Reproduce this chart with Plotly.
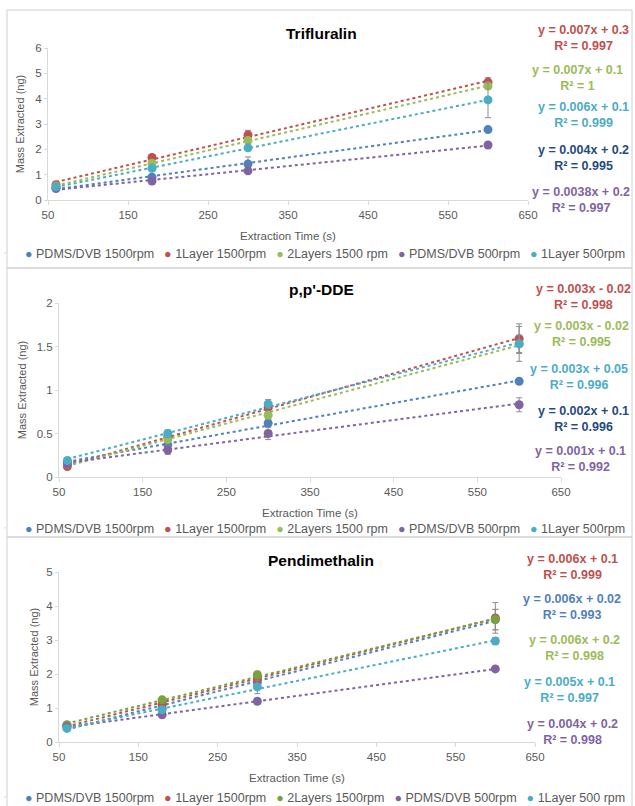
import numpy as np
import plotly.graph_objects as go

W, H = 635, 806

# ---------------- data ----------------
time_s = [60, 180, 300, 600]

names_trif = ["PDMS/DVB 1500rpm", "1Layer 1500rpm", "2Layers 1500 rpm", "PDMS/DVB 500rpm", "1Layer 500rpm"]
names_dde = ["PDMS/DVB 1500rpm", "1Layer 1500rpm", "2Layers 1500 rpm", "PDMS/DVB 500rpm", "1Layer 500rpm"]
names_pend = ["PDMS/DVB 1500rpm", "1Layer 1500rpm", "2Layers 1500rpm", "PDMS/DVB 500rpm", "1Layer 500 rpm"]

# Trifluralin
trif_pdms1500 = [0.48, 0.90, 1.42, 2.78]
trif_1l1500 = [0.60, 1.68, 2.57, 4.65]
trif_2l1500 = [0.55, 1.45, 2.35, 4.50]
trif_pdms500 = [0.45, 0.75, 1.15, 2.17]
trif_1l500 = [0.52, 1.25, 2.06, 3.95]
trif_err_pdms1500 = [0.04, 0.08, 0.28, 0.05]
trif_err_1l1500 = [0.05, 0.10, 0.18, 0.18]
trif_err_2l1500 = [0.04, 0.08, 0.10, 0.12]
trif_err_pdms500 = [0.04, 0.05, 0.08, 0.05]
trif_err_1l500 = [0.04, 0.08, 0.10, 0.70]

# p,p'-DDE
dde_pdms1500 = [0.17, 0.37, 0.62, 1.10]
dde_1l1500 = [0.12, 0.46, 0.80, 1.59]
dde_2l1500 = [0.15, 0.43, 0.71, 1.53]
dde_pdms500 = [0.15, 0.31, 0.50, 0.83]
dde_1l500 = [0.19, 0.50, 0.84, 1.53]
dde_err_pdms1500 = [0.02, 0.03, 0.04, 0.02]
dde_err_1l1500 = [0.02, 0.04, 0.05, 0.17]
dde_err_2l1500 = [0.02, 0.03, 0.05, 0.10]
dde_err_pdms500 = [0.02, 0.05, 0.07, 0.08]
dde_err_1l500 = [0.03, 0.04, 0.05, 0.20]

# Pendimethalin
pend_pdms1500 = [0.45, 1.00, 1.75, 3.60]
pend_1l1500 = [0.50, 1.12, 1.85, 3.65]
pend_2l1500 = [0.50, 1.24, 1.98, 3.60]
pend_pdms500 = [0.45, 0.80, 1.20, 2.15]
pend_1l500 = [0.40, 0.95, 1.62, 2.97]
pend_err_pdms1500 = [0.03, 0.05, 0.10, 0.30]
pend_err_1l1500 = [0.04, 0.08, 0.10, 0.45]
pend_err_2l1500 = [0.04, 0.08, 0.10, 0.30]
pend_err_pdms500 = [0.03, 0.05, 0.08, 0.05]
pend_err_1l500 = [0.03, 0.05, 0.20, 0.10]

# trendline equation labels (as printed on the chart)
trif_eq = ["y = 0.007x + 0.3", "y = 0.007x + 0.1", "y = 0.006x + 0.1", "y = 0.004x + 0.2", "y = 0.0038x + 0.2"]
trif_r2 = ["R² = 0.997", "R² = 1", "R² = 0.999", "R² = 0.995", "R² = 0.997"]
dde_eq = ["y = 0.003x - 0.02", "y = 0.003x - 0.02", "y = 0.003x + 0.05", "y = 0.002x + 0.1", "y = 0.001x + 0.1"]
dde_r2 = ["R² = 0.998", "R² = 0.995", "R² = 0.996", "R² = 0.996", "R² = 0.992"]
pend_eq = ["y = 0.006x + 0.1", "y = 0.006x + 0.02", "y = 0.006x + 0.2", "y = 0.005x + 0.1", "y = 0.004x + 0.2"]
pend_r2 = ["R² = 0.999", "R² = 0.993", "R² = 0.998", "R² = 0.997", "R² = 0.998"]

# ---------------- style ----------------
BLUE, RED, GREEN, PURPLE, CYAN = "#4F81BD", "#C0504D", "#9BBB59", "#8064A2", "#4BACC6"
NAVY = "#254A80"
GREEN_DARK = "#77A23C"
GRAY_TXT = "#595959"
AXIS_LINE = "#D9D9D9"
FONT = "Liberation Sans, Arial, sans-serif"
BULLET = "●"


def px(x):
    return x / W


def py(y):
    return 1 - y / H


ARIAL = {" ": 278, "/": 278, "P": 667, "D": 722, "M": 833, "S": 667, "V": 667, "B": 667,
         "L": 556, "a": 556, "y": 500, "e": 556, "r": 333, "s": 500, "p": 556, "m": 833,
         BULLET: 604}


def text_w(s, size):
    return sum(ARIAL.get(c, 556) for c in s) / 1000 * size


LEG_FONT = 12.5
LEG_GAP = 10

panels = [
    dict(title="Trifluralin", names=names_trif,
         ys=[trif_pdms1500, trif_1l1500, trif_2l1500, trif_pdms500, trif_1l500],
         errs=[trif_err_pdms1500, trif_err_1l1500, trif_err_2l1500, trif_err_pdms500, trif_err_1l500],
         colors=[BLUE, RED, GREEN, PURPLE, CYAN],
         eq=trif_eq, r2=trif_r2, eq_colors=[RED, GREEN, CYAN, NAVY, PURPLE],
         eq_x=[583, 577, 583, 583, 581], eq_y=[38, 78, 115, 158, 200],
         ymax=6, ydtick=1, xd=(48, 528), yd=(48, 200), box=(7, 10, 632, 268),
         title_y=33, legend_y=253, ytitle_standoff=8),
    dict(title="p,p'-DDE", names=names_dde,
         ys=[dde_pdms1500, dde_1l1500, dde_2l1500, dde_pdms500, dde_1l500],
         errs=[dde_err_pdms1500, dde_err_1l1500, dde_err_2l1500, dde_err_pdms500, dde_err_1l500],
         colors=[BLUE, RED, GREEN, PURPLE, CYAN],
         eq=dde_eq, r2=dde_r2, eq_colors=[RED, GREEN, CYAN, NAVY, PURPLE],
         eq_x=[583, 581, 579, 583, 580], eq_y=[297, 334, 377, 419, 459],
         ymax=2, ydtick=0.5, xd=(59, 561), yd=(303, 477), box=(7, 268, 632, 537),
         title_y=290, legend_y=528, ytitle_standoff=7),
    dict(title="Pendimethalin", names=names_pend,
         ys=[pend_pdms1500, pend_1l1500, pend_2l1500, pend_pdms500, pend_1l500],
         errs=[pend_err_pdms1500, pend_err_1l1500, pend_err_2l1500, pend_err_pdms500, pend_err_1l500],
         colors=[BLUE, RED, GREEN_DARK, PURPLE, CYAN],
         eq=pend_eq, r2=pend_r2, eq_colors=[RED, BLUE, GREEN, CYAN, PURPLE],
         eq_x=[572, 572, 574, 569, 572], eq_y=[567, 607, 648, 690, 732],
         ymax=5, ydtick=1, xd=(59, 535), yd=(572, 742), box=(7, 537, 632, 820),
         title_y=560, legend_y=797, ytitle_standoff=5),
]

fig = go.Figure()
annotations = []
shapes = []
layout_axes = {}

for i, p in enumerate(panels):
    k = i + 1
    xa = "x" if k == 1 else f"x{k}"
    ya = "y" if k == 1 else f"y{k}"
    leg = "legend" if k == 1 else f"legend{k}"
    x_arr = np.array(time_s, dtype=float)
    # trendlines (linear least squares of the plotted points)
    for j, (y, c) in enumerate(zip(p["ys"], p["colors"])):
        slope, icpt = np.polyfit(x_arr, np.array(y), 1)
        xs = [time_s[0], time_s[-1]]
        fig.add_trace(go.Scatter(
            x=xs, y=[slope * v + icpt for v in xs], mode="lines",
            line=dict(color=c, width=2, dash="dot"), showlegend=False,
            legendgroup=f"p{k}s{j}", hoverinfo="skip", xaxis=xa, yaxis=ya))
    # markers with error bars
    n = len(p["names"])
    for j, (name, y, e, c) in enumerate(zip(p["names"], p["ys"], p["errs"], p["colors"])):
        fig.add_trace(go.Scatter(
            x=time_s, y=y, mode="markers", name=name,
            marker=dict(color=c, size=9),
            error_y=dict(type="data", array=e, visible=True, color="#8C8C8C",
                         thickness=1, width=3),
            showlegend=False, legendgroup=f"p{k}s{j}", xaxis=xa, yaxis=ya))
    # legend entries: coloured bullet + label (Excel-style compact legend)
    for j, (name, c) in enumerate(zip(p["names"], p["colors"])):
        tw = text_w(BULLET + " " + name, LEG_FONT)
        lw = tw + LEG_GAP - 30 if j < n - 1 else tw
        fig.add_trace(go.Scatter(
            x=[None], y=[None], mode="markers", marker=dict(color=c, size=1, opacity=0),
            name=f'<span style="color:{c}">{BULLET}</span> {name}',
            legend=leg, legendwidth=lw, legendgroup=f"p{k}s{j}",
            hoverinfo="skip", xaxis=xa, yaxis=ya))

    x0, x1 = p["xd"]
    y0, y1 = p["yd"]
    layout_axes["xaxis" if k == 1 else f"xaxis{k}"] = dict(
        domain=[px(x0), px(x1)], range=[50, 650], tick0=50, dtick=100,
        anchor=ya, showgrid=False, zeroline=False, showline=True,
        linecolor=AXIS_LINE, linewidth=1, ticks="outside", ticklen=4,
        tickcolor=AXIS_LINE, tickfont=dict(size=11.5, color=GRAY_TXT, family=FONT),
        title=dict(text="Extraction Time (s)", standoff=12,
                   font=dict(size=11.5, color=GRAY_TXT, family=FONT)))
    layout_axes["yaxis" if k == 1 else f"yaxis{k}"] = dict(
        domain=[py(y1), py(y0)], range=[0, p["ymax"]], dtick=p["ydtick"],
        anchor=xa, showgrid=False, zeroline=False, showline=True,
        linecolor=AXIS_LINE, linewidth=1, ticks="outside", ticklen=3,
        tickcolor=AXIS_LINE, tickfont=dict(size=11.5, color=GRAY_TXT, family=FONT),
        title=dict(text="Mass Extracted (ng)", standoff=p["ytitle_standoff"],
                   font=dict(size=11, color=GRAY_TXT, family=FONT)))
    layout_axes[leg] = dict(
        orientation="h", x=0, xanchor="left", y=py(p["legend_y"]), yanchor="middle",
        font=dict(size=LEG_FONT, color=GRAY_TXT, family=FONT),
        bgcolor="rgba(0,0,0,0)", itemwidth=30, entrywidthmode="pixels",
        indentation=-15, tracegroupgap=0)

    annotations.append(dict(
        text=f"<b>{p['title']}</b>", x=px(321), y=py(p["title_y"]), xref="paper", yref="paper",
        showarrow=False, xanchor="center", yanchor="middle",
        font=dict(size=15.5, color="#000000", family=FONT)))
    for eq, r2, c, ex, ey in zip(p["eq"], p["r2"], p["eq_colors"], p["eq_x"], p["eq_y"]):
        annotations.append(dict(
            text=f"<b>{eq}<br>{r2}</b>", x=px(ex), y=py(ey), xref="paper", yref="paper",
            showarrow=False, xanchor="center", yanchor="middle", align="center",
            font=dict(size=12.5, color=c, family=FONT)))
    bx0, by0, bx1, by1 = p["box"]
    shapes.append(dict(type="rect", xref="paper", yref="paper",
                       x0=px(bx0), x1=px(bx1), y0=py(by1), y1=py(by0),
                       line=dict(color="#D0D0D0", width=1), layer="below"))

fig.update_layout(
    width=W, height=H, margin=dict(l=0, r=0, t=0, b=0, autoexpand=False),
    paper_bgcolor="white", plot_bgcolor="white",
    font=dict(family=FONT, color=GRAY_TXT),
    annotations=annotations, shapes=shapes, **layout_axes)

fig.write_html("out.html", config={"displayModeBar": False},
               post_script="document.body.style.margin='0';document.body.style.overflow='hidden';")
